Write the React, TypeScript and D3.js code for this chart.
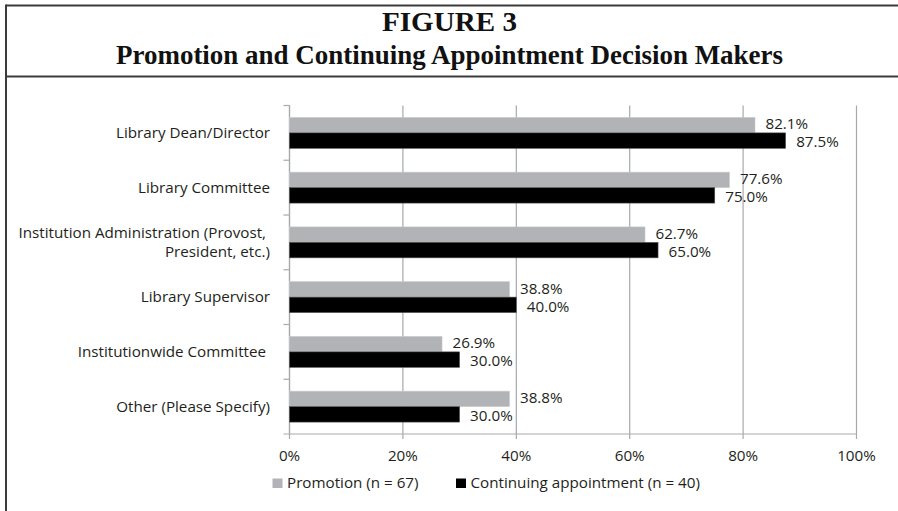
import React from "react";
import * as d3 from "d3";

const categories = [
  "Library Dean/Director",
  "Library Committee",
  "Institution Administration (Provost, President, etc.)",
  "Library Supervisor",
  "Institutionwide Committee",
  "Other (Please Specify)",
];
const categoryLines: string[][] = [
  ["Library Dean/Director"],
  ["Library Committee"],
  ["Institution Administration (Provost, ", "President, etc.)"],
  ["Library Supervisor"],
  ["Institutionwide Committee "],
  ["Other (Please Specify)"],
];
const promotion = [82.1, 77.6, 62.7, 38.8, 26.9, 38.8];
const continuing = [87.5, 75.0, 65.0, 40.0, 30.0, 30.0];
const seriesKeys = ["promotion", "continuing"];
const seriesNames = ["Promotion (n = 67)", "Continuing appointment (n = 40)"];
const xTicks = [0, 20, 40, 60, 80, 100];

const W = 898;
const H = 511;
const FONT = "'Open Sans', 'Liberation Sans', sans-serif";
const FS = 15.2;
const TXT = "#231f20";
const GRAY = "#b1b3b6";

export default function App() {
  const x = d3.scaleLinear().domain([0, 100]).range([289.5, 856.5]);
  const y = d3.scaleBand<string>().domain(categories).range([105.5, 434]).paddingInner(0).paddingOuter(0);
  const sub = d3.scaleBand<string>().domain(seriesKeys).range([0, y.bandwidth()]).paddingInner(0).paddingOuter(0.77);
  const series = [promotion, continuing];
  const colors = [GRAY, "#000000"];
  const axisColor = "#a7a9ac";
  const y0 = y.range()[0];
  const y1 = y.range()[1];

  return (
    <svg width={W} height={H} style={{ position: "absolute", left: 0, top: 0, background: "#fff" }}>
      {/* frame */}
      <line x1={6} x2={W} y1={5.5} y2={5.5} stroke="#3c3c3c" strokeWidth={2} />
      <line x1={6} x2={6} y1={4.5} y2={H} stroke="#3c3c3c" strokeWidth={2} />
      <line x1={6} x2={W} y1={76.5} y2={76.5} stroke="#3c3c3c" strokeWidth={2} />
      <text x={449.5} y={31} textAnchor="middle" fontFamily="'Liberation Serif', 'Times New Roman', serif" fontWeight="bold" fontSize={26.5} fill="#111" textLength={135} lengthAdjust="spacingAndGlyphs">FIGURE 3</text>
      <text x={449.5} y={64} textAnchor="middle" fontFamily="'Liberation Serif', 'Times New Roman', serif" fontWeight="bold" fontSize={26.5} fill="#111" textLength={667} lengthAdjust="spacingAndGlyphs">Promotion and Continuing Appointment Decision Makers</text>

      {/* gridlines */}
      {xTicks.map((t) => (
        <line key={"g" + t} x1={x(t)} x2={x(t)} y1={y0} y2={y1 + 5} stroke={axisColor} strokeWidth={1.2} />
      ))}
      {/* left axis */}
      <line x1={x(0)} x2={x(0)} y1={y0} y2={y1} stroke={axisColor} strokeWidth={1.2} />
      {categories.map((c) => (
        <line key={"t" + c} x1={x(0) - 6} x2={x(0)} y1={y(c)!} y2={y(c)!} stroke={axisColor} strokeWidth={1.2} />
      ))}
      <line x1={x(0) - 6} x2={x(100)} y1={y1} y2={y1} stroke={axisColor} strokeWidth={1.2} />

      {/* bars */}
      {categories.map((c, i) =>
        series.map((s, k) => {
          const by = y(c)! + sub(seriesKeys[k])!;
          const bh = sub.bandwidth();
          return (
            <g key={c + k}>
              <rect x={x(0)} y={by} width={x(s[i]) - x(0)} height={bh} fill={colors[k]} stroke={k === 0 ? "#c8cacc" : "#555"} strokeWidth={0.6} />
              <text x={x(s[i]) + 10.5} y={by + bh / 2 + (k === 0 ? 0.2 : 2.8)} dominantBaseline="middle" fontFamily={FONT} fontSize={FS} fill={TXT}>
                {s[i].toFixed(1) + "%"}
              </text>
            </g>
          );
        })
      )}

      {/* category labels */}
      {categories.map((c, i) => {
        const lines = categoryLines[i];
        const cy = y(c)! + y.bandwidth() / 2 + 1;
        const lh = 18.5;
        return (
          <text key={"l" + c} textAnchor="end" fontFamily={FONT} fontSize={FS} fill={TXT} style={{ whiteSpace: "pre" }}>
            {lines.map((ln, j) => (
              <tspan key={j} x={270} y={cy + (j - (lines.length - 1) / 2) * lh} dominantBaseline="middle">
                {ln}
              </tspan>
            ))}
          </text>
        );
      })}

      {/* x tick labels */}
      {xTicks.map((t) => (
        <text key={"x" + t} x={x(t)} y={456.5} textAnchor="middle" dominantBaseline="middle" fontFamily={FONT} fontSize={FS} fill={TXT}>
          {t + "%"}
        </text>
      ))}

      {/* legend */}
      {seriesNames.map((n, k) => {
        const lx = [272.5, 456][k];
        return (
          <g key={"lg" + k}>
            <rect x={lx} y={478.5} width={10} height={9.5} fill={colors[k]} />
            <text x={lx + 14.5} y={483.5} dominantBaseline="middle" fontFamily={FONT} fontSize={FS} fill={TXT}>
              {n}
            </text>
          </g>
        );
      })}
    </svg>
  );
}
